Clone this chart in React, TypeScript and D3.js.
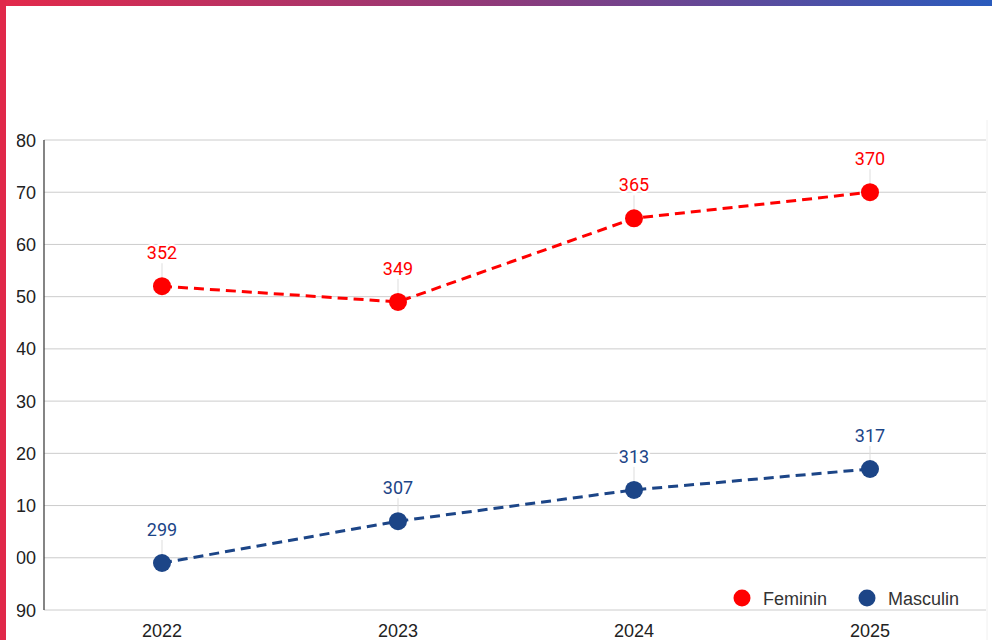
import React from "react";
import * as d3 from "d3";

const years = ["2022", "2023", "2024", "2025"];
const feminin = [352, 349, 365, 370];
const masculin = [299, 307, 313, 317];
const yTicks = [290, 300, 310, 320, 330, 340, 350, 360, 370, 380];
const seriesNames = ["Feminin", "Masculin"];
const seriesColors = ["#ff0000", "#1c4587"];

const W = 992;
const H = 640;
const left = 44;
const right = 988;
const top = 140;
const bottom = 610;

export default function App() {
  const x = d3.scaleBand<string>().domain(years).range([left, right]);
  const y = d3.scaleLinear().domain([290, 380]).range([bottom, top]);
  const cx = (d: string) => (x(d) ?? 0) + x.bandwidth() / 2;
  const line = d3
    .line<number>()
    .x((_, i) => cx(years[i]))
    .y((v) => y(v));
  const series = [feminin, masculin];
  const axisFont = "'Liberation Sans', Arial, sans-serif";
  const labelFont = "Roboto, 'Noto Sans', sans-serif";

  return (
    <svg
      width={W}
      height={H}
      style={{ position: "absolute", left: 0, top: 0, background: "#fff" }}
    >
      <defs>
        <linearGradient id="topbar" x1="0" x2="1" y1="0" y2="0">
          <stop offset="0" stopColor="#e3294a" />
          <stop offset="0.5" stopColor="#8f3a7a" />
          <stop offset="1" stopColor="#2a5bbd" />
        </linearGradient>
        <clipPath id="yclip">
          <rect x={16.5} y={0} width={W} height={H} />
        </clipPath>
      </defs>
      <rect x={0} y={0} width={W} height={H} fill="#fff" />

      {/* gridlines */}
      {yTicks.map((t) => (
        <line
          key={t}
          x1={left}
          x2={986}
          y1={y(t)}
          y2={y(t)}
          stroke="#cccccc"
          strokeWidth={1}
        />
      ))}
      <line x1={987} x2={987} y1={top - 20} y2={H} stroke="#f0f0f0" strokeWidth={1} />
      <line x1={left} x2={left} y1={top} y2={bottom} stroke="#333" strokeWidth={1.2} />

      {/* y tick labels */}
      <g clipPath="url(#yclip)">
        {yTicks.map((t) => (
          <text
            key={t}
            x={36}
            y={y(t) + 6.5}
            textAnchor="end"
            fontFamily={axisFont}
            fontSize={18}
            fill="#222"
          >
            {d3.format("d")(t)}
          </text>
        ))}
      </g>

      {/* x tick labels */}
      {years.map((yr) => (
        <text
          key={yr}
          x={cx(yr)}
          y={636.5}
          textAnchor="middle"
          fontFamily={axisFont}
          fontSize={18}
          fill="#222"
        >
          {yr}
        </text>
      ))}

      {/* series */}
      {series.map((vals, si) => (
        <g key={si}>
          <path
            d={line(vals) ?? ""}
            fill="none"
            stroke={seriesColors[si]}
            strokeWidth={3}
            strokeDasharray="10,6"
          />
          {vals.map((v, i) => (
            <g key={i}>
              <line
                x1={cx(years[i])}
                x2={cx(years[i])}
                y1={y(v) - 23}
                y2={y(v)}
                stroke="#dddddd"
                strokeWidth={1}
              />
              <text
                x={cx(years[i])}
                y={y(v) - 27}
                textAnchor="middle"
                fontFamily={labelFont}
                fontSize={18}
                fill={seriesColors[si]}
                stroke="#fff"
                strokeWidth={4}
                paintOrder="stroke"
              >
                {v}
              </text>
              <circle cx={cx(years[i])} cy={y(v)} r={9} fill={seriesColors[si]} />
            </g>
          ))}
        </g>
      ))}

      {/* legend */}
      {seriesNames.map((n, i) => (
        <g key={n} transform={`translate(${742 + i * 125},598)`}>
          <circle cx={0} cy={0} r={8.5} fill={seriesColors[i]} />
          <text
            x={21}
            y={6.5}
            fontFamily={axisFont}
            fontSize={18}
            fill="#333"
          >
            {n}
          </text>
        </g>
      ))}

      {/* decorative bars */}
      <rect x={0} y={0} width={W} height={6} fill="url(#topbar)" />
      <rect x={0} y={0} width={6} height={H} fill="#e0284a" />
    </svg>
  );
}
